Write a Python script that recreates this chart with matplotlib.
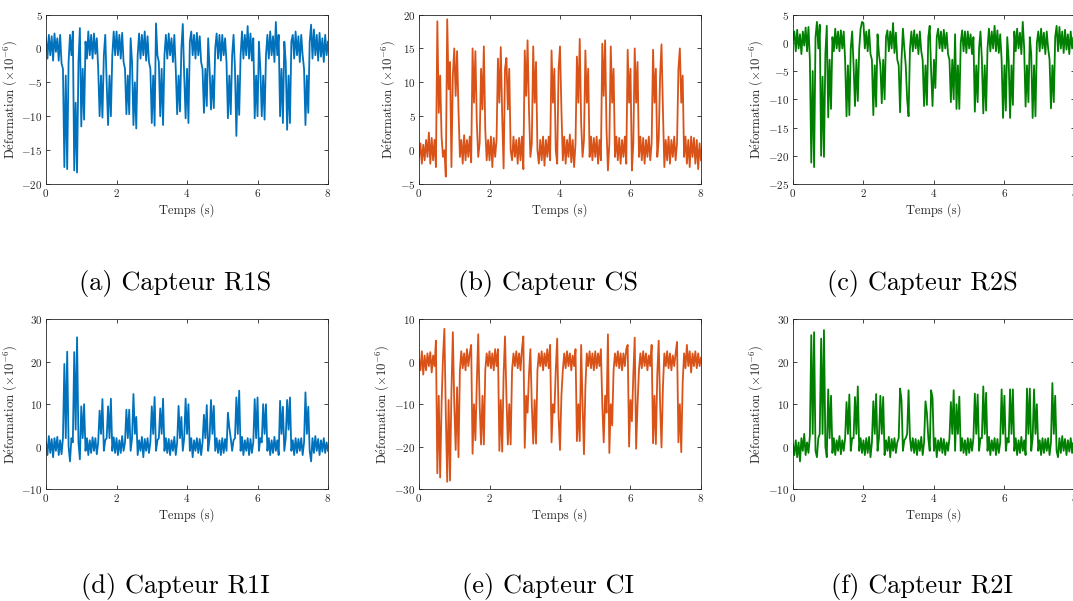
import numpy as np
import matplotlib.pyplot as plt

plt.rcParams['font.family'] = 'serif'
plt.rcParams['font.serif'] = ['cmr10']
plt.rcParams['mathtext.fontset'] = 'cm'
plt.rcParams['axes.unicode_minus'] = False
plt.rcParams['axes.formatter.use_mathtext'] = True

# Time base of the readings (s), one reading every 0.04 s
temps = np.linspace(0, 8, 201)

# Strain readings (x1e-6), one line per second
r1s = [1.5, -1.5, 2, -1, 1.8, -1.8, 2.2, -0.5, 1.5, -1.8, 2, -2.2, -3, -17.5, -4, -17.8, -2, 2, -1, 2.5, -18, -8, -18.3, -2, 3,
       -11.5, -3, -10.5, 1, -1.5, 2.5, -1, 2, -1.5, 2.2, -0.8, 1.5, -3, -10, -4, -10.2, -1, 2, -5, -11.3, -4, -10, -1, 2.5, -1,
       2.5, -1, 2, -1.5, 2.3, -2, -3, -9.7, -4, -9.7, 1.5, -2, -11.3, -5, -11.8, -1, 2.2, -1.5, 2, -1, 2.5, -1.8, 1.8, -2, -3,
       -11, -4, -11.4, 3.7, -1, -2, -10, -3, -11.3, -1, 2, -1.5, 2.2, -1, 1.5, -2, 2, -3, -9.7, -4, -9.3, 0, 3.6, -4, -10.3,
       -3, -11, 1, 2.5, -1, 2, -1.5, 2.3, -1, 1.8, -2, -3, -9.5, -3, -8.5, 1.5, -3, -9, -4, -8.8, 0, 2.2, -1.5, 2, -1.8,
       2, -1, 1.5, -2, -10.3, -4, -9.7, -1, 2, -3, -12.9, -4, -9.8, -1, 2.5, -1.5, 2, -1, 3.3, -1.5, 2.2, -1.8, 1.5, -10.3, -4,
       -10, 1, -3, -10, -4, -10.5, -1, 2, -1.5, 2.5, -1, 1.8, -2, 3.9, -1, 2, -10, -3, -11, 1, -2, -12, -4, -11, 1,
       2, -1.5, 2.5, -1, 1.8, -2, 2, -1, -3, -11.3, -4, -9.5, 1, 3.5, -1.5, 2.8, -1, 2, -1.8, 2.3, -1.2, 1.5, -2, 2, -1, 1]

cs = [-1, 1, -2, 0.8, -1.5, 1.5, -1, 2.6, -2, 1.8, -1.5, 1.5, -2.5, 19, 5.5, 11, 2, -1, 0, -3.9, 19.3, 9, 13, -2.5, 11,
      15, 8, 14.6, 6, -1, 1.5, -2, 2.2, -1.5, 1.5, -1, 2, -1.8, 15, 7, 14.6, 4, -1, 1, 12, 6, 15.3, 3, -1.5, 1.5,
      -1.5, 2, -2.5, 1.8, -1, 1.5, 13.5, 7, 15.2, 5, -2.7, 12, 13.6, 6, 12, 0, -1.5, 2, -1, 1.5, -2, 1.8, -1.5, 2, -2.8,
      14.7, 8, 16.2, 6, -1, 1, 15.3, 7, 13, 0, -2, 1.5, -1.5, 2, -2.3, 1.5, -1, 2, -1.5, 14.7, 7, 12, 0, -2, 12,
      15.3, 6, -1.5, 2, -2, 1.5, -1, 2.3, -1.8, 1.5, -2.5, 1, 13.8, 7, 16.4, 4, -1, 1.5, 14.7, 7, 12, -1, 2, -1.5, 1.8,
      -1, 2, -2, 1.5, -1.5, 15.7, 8, 16.2, 3, -3, 1, 15.3, 7, 12, -1, 2, -1.5, 1.8, -2, 1.5, -1, 2, -2, 14.8, 7,
      12, -3, 1, 15, 7, 13, -1, 2, -1.5, 1.8, -2, 1.5, -1, 2, -1.5, 1, 14.8, 7, 12, -1, 1.5, 11, 15.6, 6, -2.5,
      1.5, -1.5, 2, -2, 1.5, -1, 2, -1.5, 1, 12, 15, 7, 11, -1, 2, -2, 1.5, -2.5, 2, -1, 1.8, -2, 1.5, -2.8, 1, -1.5]

r2s = [0.5, 2, -1.5, 2.3, -1, 1.5, -2, 2, -0.5, 2.7, -1.5, 2.8, -3, -21.2, -5, -22, 1, 3.7, -1, 3.2, -20, -6, -20.2, -2, 3,
       -13.2, -3, -11.7, 1, -1.5, 2.5, -1, 2, -1.5, 2.2, -1, 2, -3, -13, -4, -12.8, -1, 2, -4, -11.2, -3, -10.3, -1, 2.5, 3.7,
       3.5, -1, 2, -1.5, 2.3, -2, -3, -12.8, -4, -11.3, 1.5, -2, -4, -10.7, -3, -10, 1, 2.2, -1.5, 2, -1, 3.5, -1.8, 1.8, -3,
       -4, -12.3, -3, 2.5, -1, -4, -10, -13, -1, 2, -1.5, 2.2, -1, 1.5, -2, 2, -1.5, -3, -11.2, -4, -11, 1, 3, -5, -11.2,
       -3, -8, 1, 2.5, -1, 2, -1.5, 2.3, -1, 1.8, -2, -3, -10.5, -3, -10, 1.5, -11.7, -4, -11.7, 0, 2.2, -1.5, 2, -1.8, 2,
       -1, 1.5, -2, 1, -12.2, -4, -10.5, -1, 2, -3, -12.5, -4, -12, -1, 2.5, -1.5, 2, -1, 3, -1.5, 2.2, -1.8, 1.5, -3, -13.3,
       -4, -12, 1, -3, -13.3, -4, -11, 2, -1.5, 2.5, -1, 1.8, -2, 3.7, -1, -11.3, -4, -10.5, 1, -2, -13.3, -4, -13, 0, 2,
       -1.5, 2.5, -1, 1.8, -2, 2, -1, -3, -11.6, -4, -10.5, 1, 3, -1.5, 2.8, -1, 2, -1.8, 2.3, -1.2, 1.5, -2, 2, -1, 1, 0]

r1i = [1, -2, 2.5, -1.5, 1.8, -2.5, 2, -1, 2.3, -2, 1.5, -1.8, 2, 19.5, 2, 22.4, 0, -3.5, 2, 1, 22.3, 4, 25.8, 1, -3,
       9.5, 2, 10, -1, 2, -2, 1.5, -1.5, 2.2, -1, 2, -1.8, 1, 8.5, 3, 11.2, -1, 1.5, 2, 9.5, 2, 11.3, -1, 2.2, -1.5,
       2, -2, 1.5, -1.5, 2.5, -1, 1, 8.7, 2, 8.7, -1, 2, 12.4, 3, 7, -2, 1.5, -1, 2.3, -2.5, 1.8, -1, 2, -1.5, 1,
       9.5, 3, 11.7, -1, 1.5, 2, 9, 3, 11.3, -1, 2, -1.5, 1.8, -2, 1.5, -1, 2.3, -2, 1, 9.6, 2, 7, -1, 2, 11.3,
       3, 10, -1, 2, -2.5, 1.5, -1, 2, -1.5, 1.8, -2, 1, 7.5, 2, 9.8, -1, 2, 11, 3, 9.6, -1, 2, -1.5, 1.5, -2,
       2, -1.5, 1.8, -1, 8, 4.5, 2, -1, 1.5, 2, 11.6, 3, 13.2, -1, 2.3, -2, 1.5, -1, 2, -2, 1.8, -1.5, 1, 11.2, 2,
       11.6, -1, 2, 1, 10, 3, 10, -1, 2, -2, 1.5, -1.5, 2.3, -1, 1.5, -2, 10.8, 3, 9.4, -1, 2, 11, 4, 11.6, -1,
       1.5, -2, 2, -1.5, 1.8, -1, 2, -2, 1, 12.8, 3, 9.4, -1, -3.5, 2, -1.5, 2.5, -1, 1.8, -2, 1.5, -1.2, 2, -1.5, 1, -1]

ci = [0.5, -2, 2.5, -3, 1.5, -2, 2, -1, 2.3, -2.5, 1.5, -1, 5, -26.3, -8, -27.3, -10, 1, 7.8, -12, -28.3, -9, -28, -7, 7,
      -10, -20.8, -6, -22.5, -2, 2.5, -1.5, 2, -2, 3, -1, 2, 4, -21.7, -10, -18.5, -5, 6.5, -10, -19.5, -8, -19.5, -2, 2, -1,
      2.5, -1.5, 2, -2, 3, -1, 3, -21, -9, -21.2, -3, 6, -8, -19.5, -10, -19.5, -2, 2, -1, 2.5, -1.5, 2, -2, 3, 6,
      -20.3, -8, -12, -3, 3, -10, -19.3, -9, -19.3, -2, 2, -1, 2.5, -2, 2, -1, 3, -1.5, 4, -19, -10, -12, -2, 5.5, -13,
      -20.8, -8, -2, 2, -1.5, 2.5, -1, 2, -2, 1.5, -1, 3, -18.7, -10, -18.7, 4, -10, -21.8, -6, 2, -1, 2.5, -1.5, 2, -2,
      2.5, -1.5, 2, -1, 3, -10, -19, -8, -12, 6.5, -21.5, -10, -15, -2, 2, -1, 2.5, -1.5, 2, -2, 2, -1, 3, 4, -20,
      -9, -14, -3, 5.7, -20.5, -10, -2, 2, -1.5, 2.5, -1, 2, -2, 1.5, -1, 4, -19.2, -8, -19.4, -3, 5, -10, -20.2, -6, 2,
      -1, 2.5, -1.5, 2, -2, 1.5, -1, 2, 4.7, -19, -10, -21.3, -5, 2, -1.5, 4, -1, 2.5, -2.5, 2, -1, 2.5, -1.5, 2, -1, 1]

r2i = [0.5, -2, 1.5, -2.5, 1, -3.5, 2, -1, 3, -2, 1, -1.5, 2.5, 26.3, 3, 27, -1, -2.5, 2, 3, 25.5, 3, 27.5, 0, -2.5,
       13.5, 2, 12, -1.5, 2, -2, 1.5, -1, 2.5, -1.8, 1.5, -1, 2, 10.5, 3, 12.3, -1, 2, 2, 11.7, 3, 14.2, -1, 2, -1.5,
       1.5, -2, 2, -1.5, 2.3, -2.5, 1, 10.7, 3, 12.4, -1, 2, 12, 3, 11.7, -2, 1.5, -1, 2.3, -2.5, 1.8, -1, 2, -1.5, 1,
       2, 13.7, 11, -1, 1.5, 2, 3, 13.3, 2, -1, 2, -1.5, 1.8, -2, 1.5, -1, 2.3, -2, 1, 10.7, 8, 2, -1, 13.3, 11.5,
       -1, 2, -2.5, 1.5, -1, 2, -1.5, 1.8, -2, 1, -1, 2, 10.5, 3, 13.3, -1, 10, 3, 11.8, -1, 2, -1.5, 1.5, -2, 2,
       -1.5, 1.8, -1, 2, 12.5, 3, 12.3, -1, 2, 2, 14.2, 3, 12.7, -1, 2.3, -2, 1.5, -1, 2, -2, 1.8, -1.5, 1, 13.5, 3,
       12, -1, 2, 1, 13.5, 3, 13.5, -1, 2, -2, 1.5, -1.5, 2.3, -1, 1.5, -2, 13.7, 3, 13.7, -1, 2, 13.5, 3, 10, -1,
       1.5, -2, 2, -1.5, 1.8, -1, 2, -2, 1, 15, 3, 12, -1, -2.5, 2, -1.5, 2.5, -1, 1.8, -2, 1.5, -1.2, 2, -1.5, 1, -3]

series = [r1s, cs, r2s, r1i, ci, r2i]
captions = ['(a) Capteur R1S', '(b) Capteur CS', '(c) Capteur R2S',
            '(d) Capteur R1I', '(e) Capteur CI', '(f) Capteur R2I']
ylims = [(-20, 5), (-5, 20), (-25, 5), (-10, 30), (-30, 10), (-10, 30)]
ysteps = [5, 5, 5, 10, 10, 10]
colors = ['#0072BD', '#D95319', '#008000', '#0072BD', '#D95319', '#008000']

fig = plt.figure(figsize=(10.73, 6.01), dpi=100)
lefts = [0.0429, 0.3905, 0.7390]
bottoms = [0.6938, 0.1864]
cap_y = [0.5275, 0.0233]

for k in range(6):
    row, col = divmod(k, 3)
    ax = fig.add_axes([lefts[col], bottoms[row], 0.2628, 0.2820])
    ax.plot(temps, series[k], color=colors[k], lw=1.3)
    ax.set_xlim(0, 8)
    ax.set_ylim(*ylims[k])
    ax.set_xticks([0, 2, 4, 6, 8])
    ax.set_yticks(np.arange(ylims[k][0], ylims[k][1] + 1, ysteps[k]))
    ax.tick_params(direction='in', top=True, right=True, labelsize=8,
                   length=3, width=0.6, colors='#262626', pad=2.5)
    for s in ax.spines.values():
        s.set_linewidth(0.6)
        s.set_color('#262626')
    ax.set_xlabel('Temps (s)', fontsize=9, color='#262626', labelpad=2.5)
    ax.set_ylabel(r'$\mathrm{D\acute{e}formation}\ (\times10^{-6})$',
                  fontsize=9.2, color='#262626', labelpad=2)
    fig.text(lefts[col] + 0.1314 - 0.0112, cap_y[row], captions[k],
             ha='center', va='center', fontsize=19)

fig.savefig('out.png', dpi=100)
